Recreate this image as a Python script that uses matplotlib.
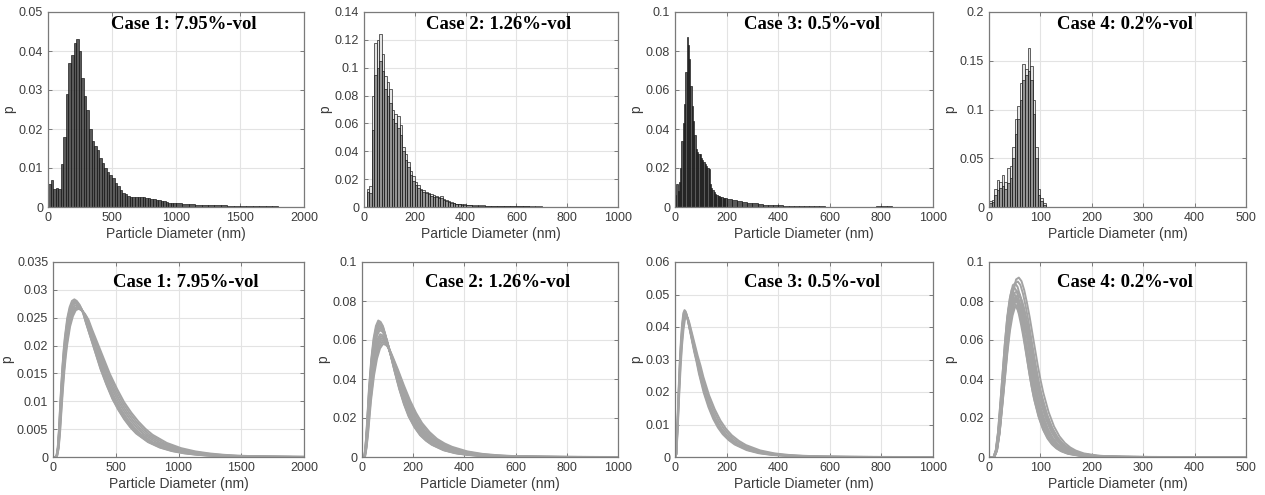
import numpy as np
import matplotlib
matplotlib.use("Agg")
import matplotlib.pyplot as plt
from matplotlib.ticker import FuncFormatter

plt.rcParams['font.family'] = ['Liberation Sans', 'DejaVu Sans']

titles = ["Case 1: 7.95%-vol", "Case 2: 1.26%-vol", "Case 3: 0.5%-vol", "Case 4: 0.2%-vol"]
xmax = [2000, 1000, 1000, 500]
xstep = [500, 200, 200, 100]
top_ymax = [0.05, 0.14, 0.1, 0.2]
top_ystep = [0.01, 0.02, 0.02, 0.05]
bot_ymax = [0.035, 0.1, 0.06, 0.1]
bot_ystep = [0.005, 0.02, 0.01, 0.02]

# ---------------- top row: histograms (bin edges in nm, heights p) ----------------
c1_edges = np.concatenate([np.arange(0, 1000, 20), np.arange(1000, 2001, 50)])
c1_h = [0.006, 0.007, 0.0045, 0.005, 0.0045, 0.011, 0.018, 0.029, 0.037, 0.039,
        0.042, 0.043, 0.040, 0.033, 0.0285, 0.025, 0.020, 0.017, 0.0156, 0.0147,
        0.0126, 0.0113, 0.010, 0.0091, 0.0083, 0.0074, 0.0061, 0.0053, 0.0044, 0.0037,
        0.0033, 0.0029, 0.0026, 0.0025, 0.0025, 0.0025, 0.0026, 0.0025, 0.0023, 0.0022,
        0.0021, 0.0020, 0.0019, 0.0018, 0.0016, 0.0015, 0.0013, 0.0011, 0.0010, 0.0010,
        0.0009, 0.0008, 0.0007, 0.0006, 0.0005, 0.0005, 0.0004, 0.0004, 0.0003, 0.0003,
        0.0003, 0.0002, 0.0002, 0.0002, 0.00015, 0.0002, 0.0001, 0.0001, 0.00005, 0.00005]

c2_edges = np.concatenate([np.arange(10, 400, 10), np.arange(400, 876, 25)])
c2_h_a = [0.013, 0.015, 0.080, 0.118, 0.120, 0.124, 0.110, 0.094, 0.090, 0.085,
          0.070, 0.067, 0.065, 0.059, 0.043, 0.038, 0.032, 0.026, 0.022, 0.018,
          0.016, 0.013, 0.012, 0.011, 0.010, 0.009, 0.0085, 0.008, 0.0075, 0.008,
          0.006, 0.005, 0.004, 0.0035, 0.003, 0.0025, 0.002, 0.002, 0.0018,
          0.0015, 0.0013, 0.0011, 0.0010, 0.0009, 0.0008, 0.0007, 0.0006, 0.0005, 0.0005,
          0.0004, 0.0004, 0.0003, 0.0003, 0.0003, 0.0002, 0.0002, 0.0002, 0.0002]
c2_h_b = [0.011, 0.010, 0.055, 0.095, 0.100, 0.105, 0.098, 0.085, 0.080, 0.075,
          0.063, 0.060, 0.057, 0.052, 0.040, 0.034, 0.029, 0.023, 0.019, 0.016,
          0.014, 0.012, 0.011, 0.010, 0.009, 0.008, 0.0075, 0.007, 0.0065, 0.0065,
          0.0052, 0.0045, 0.0036, 0.003, 0.0027, 0.0022, 0.0018, 0.0017, 0.0015,
          0.0012, 0.0010, 0.0009, 0.0008, 0.0007, 0.0007, 0.0006, 0.0005, 0.0004, 0.0004,
          0.0003, 0.0003, 0.0003, 0.0002, 0.0002, 0.0002, 0.0001, 0.0001, 0.0001]

c3_edges = np.concatenate([np.arange(0, 200, 5), np.arange(200, 901, 20)])
c3_h = [0.006, 0.012, 0.008, 0.013, 0.020, 0.034, 0.043, 0.053, 0.069, 0.087,
        0.083, 0.076, 0.062, 0.052, 0.044, 0.037, 0.030, 0.028, 0.027, 0.027,
        0.025, 0.024, 0.023, 0.022, 0.021, 0.020, 0.0195, 0.012, 0.010, 0.0085,
        0.0075, 0.0068, 0.0062, 0.0058, 0.0055, 0.0052, 0.0050, 0.0048, 0.0046, 0.0045,
        0.0042, 0.0038, 0.0032, 0.0027, 0.0022, 0.0018, 0.0015, 0.0012, 0.0010, 0.0009,
        0.0008, 0.0007, 0.0006, 0.0005, 0.0005, 0.0004, 0.0003, 0.0003, 0.0003, 0.0002,
        0.0002, 0.0002, 0.0002, 0.0002, 0.0002, 0.0001, 0.0001, 0.0002, 0.0002, 0.0005,
        0.0007, 0.0003, 0.0002, 0.0001, 0.0001]

c4_edges = np.arange(0, 111, 5)
c4_h_a = [0.006, 0.0075, 0.018, 0.028, 0.026, 0.033, 0.026, 0.040, 0.042, 0.062,
          0.090, 0.104, 0.127, 0.147, 0.142, 0.163, 0.145, 0.110, 0.062, 0.018,
          0.009, 0.004]
c4_h_b = [0.004, 0.005, 0.012, 0.017, 0.020, 0.022, 0.018, 0.025, 0.030, 0.050,
          0.075, 0.090, 0.110, 0.130, 0.135, 0.140, 0.130, 0.095, 0.050, 0.012,
          0.006, 0.002]

# ---------------- bottom row: fitted curves ----------------
# shape of a typical curve (peak = 1) read off the picture, then peak heights
# and peak positions of the individual curves
c1_x = [0, 20, 30, 40, 50, 60, 70, 80, 90, 100, 120, 140, 160, 180, 200, 225, 250, 275,
        300, 350, 400, 450, 500, 550, 600, 650, 700, 800, 900, 1000, 1100, 1200, 1300,
        1400, 1500, 1700, 2000]
c1_y = [0, 0, 0.01, 0.06, 0.17, 0.32, 0.46, 0.58, 0.68, 0.76, 0.88, 0.95, 0.99, 1.0, 0.99,
        0.965, 0.925, 0.86, 0.80, 0.68, 0.56, 0.46, 0.37, 0.30, 0.24, 0.19, 0.15, 0.095,
        0.06, 0.038, 0.024, 0.015, 0.009, 0.006, 0.004, 0.0015, 0.0004]
c1_mode = 180
c1_peaks = [0.0283, 0.0280, 0.0278, 0.0276, 0.0273, 0.0270, 0.0268, 0.0266]
c1_peak_x = [170, 172, 176, 180, 186, 192, 198, 204]

c2_x = [0, 10, 15, 20, 30, 40, 50, 60, 70, 80, 90, 100, 120, 140, 160, 180, 200, 225,
        250, 275, 300, 350, 400, 450, 500, 600, 700, 800, 1000]
c2_y = [0, 0, 0.08, 0.2, 0.5, 0.72, 0.87, 0.96, 1.0, 0.99, 0.96, 0.9, 0.77, 0.63, 0.5,
        0.39, 0.3, 0.22, 0.16, 0.12, 0.09, 0.05, 0.028, 0.016, 0.009, 0.003, 0.001,
        0.0003, 0]
c2_mode = 75
c2_peaks = [0.070, 0.069, 0.068, 0.067, 0.066, 0.065, 0.063, 0.062, 0.061, 0.060, 0.059, 0.058]
c2_peak_x = [68, 69, 70, 72, 73, 74, 76, 78, 80, 82, 85, 88]

c3_x = [0, 5, 10, 15, 20, 25, 30, 35, 40, 45, 50, 60, 70, 80, 90, 100, 120, 140, 160,
        180, 200, 225, 250, 300, 350, 400, 450, 500, 600, 700, 800, 1000]
c3_y = [0, 0.02, 0.22, 0.45, 0.65, 0.8, 0.91, 0.98, 1.0, 0.99, 0.96, 0.88, 0.8, 0.72,
        0.65, 0.57, 0.44, 0.34, 0.26, 0.2, 0.155, 0.115, 0.085, 0.047, 0.026, 0.015,
        0.009, 0.005, 0.0017, 0.0006, 0.0002, 0]
c3_mode = 40
c3_peaks = [0.0452, 0.0448, 0.0444, 0.0440, 0.0436, 0.0432]
c3_peak_x = [37, 38, 39, 40, 42, 44]

c4_x = [0, 10, 15, 20, 25, 30, 35, 40, 45, 50, 55, 60, 65, 70, 75, 80, 85, 90, 95, 100,
        110, 120, 130, 140, 150, 160, 175, 200, 225, 250, 300, 500]
c4_y = [0, 0, 0.04, 0.15, 0.32, 0.5, 0.68, 0.83, 0.93, 0.99, 1.0, 0.98, 0.93, 0.86, 0.78,
        0.69, 0.6, 0.51, 0.43, 0.36, 0.25, 0.17, 0.115, 0.078, 0.053, 0.036, 0.02, 0.008,
        0.003, 0.0012, 0.0002, 0]
c4_mode = 55
c4_peaks = [0.092, 0.090, 0.089, 0.087, 0.085, 0.084, 0.083, 0.082, 0.081, 0.080, 0.079, 0.078, 0.077]
c4_peak_x = [58, 56, 51, 49, 55, 48, 57, 53, 50, 55, 49, 56, 52]

hists = [
    [(c1_edges, c1_h, '#484848')],
    [(c2_edges, c2_h_a, '#e2e2e2'), (c2_edges, c2_h_b, '#8a8a8a')],
    [(c3_edges, c3_h, '#484848')],
    [(c4_edges, c4_h_a, '#e2e2e2'), (c4_edges, c4_h_b, '#8a8a8a')],
]
curves = [
    (c1_x, c1_y, c1_mode, c1_peaks, c1_peak_x),
    (c2_x, c2_y, c2_mode, c2_peaks, c2_peak_x),
    (c3_x, c3_y, c3_mode, c3_peaks, c3_peak_x),
    (c4_x, c4_y, c4_mode, c4_peaks, c4_peak_x),
]

W, H = 1265, 495
top_left = [48, 364, 675, 989]
top_w = [256, 254, 258, 257]
bot_left = [53, 362, 675, 989]
bot_w = [251, 256, 258, 257]

fig = plt.figure(figsize=(W / 100, H / 100), dpi=100)

fmt = FuncFormatter(lambda v, p: ('%g' % round(v, 6)))


def style(ax, i, ymax, ystep, title_y):
    ax.set_xlim(0, xmax[i])
    ax.set_ylim(0, ymax)
    ax.set_xticks(np.arange(0, xmax[i] + 1, xstep[i]))
    ax.set_yticks(np.arange(0, ymax + ystep / 2, ystep))
    ax.xaxis.set_major_formatter(fmt)
    ax.yaxis.set_major_formatter(fmt)
    ax.grid(True, color='#e3e3e3', lw=0.8)
    ax.set_axisbelow(True)
    for s in ax.spines.values():
        s.set_color('#7a7a7a')
        s.set_linewidth(0.9)
    ax.tick_params(direction='in', length=3, width=0.7, colors='#7a7a7a',
                   labelcolor='#3c3c3c', labelsize=9, top=True, right=True)
    ax.set_xlabel('Particle Diameter (nm)', fontsize=10, color='#3c3c3c', labelpad=2)
    ax.set_ylabel('p', fontsize=10, color='#3c3c3c', labelpad=2)
    ax.text(0.53, title_y, titles[i], transform=ax.transAxes, ha='center', va='center',
            fontsize=13.5, fontweight='bold', family='Liberation Serif', color='black')


for i in range(4):
    ax = fig.add_axes([top_left[i] / W, 1 - 207 / H, top_w[i] / W, 195 / H])
    for edges, h, fc in hists[i]:
        ax.bar(edges[:-1], h, width=np.diff(edges), align='edge', facecolor=fc,
               edgecolor='#111111', linewidth=0.5, alpha=0.9)
    style(ax, i, top_ymax[i], top_ystep[i], 0.935)

    ax = fig.add_axes([bot_left[i] / W, 1 - 457 / H, bot_w[i] / W, 195 / H])
    x, y, mode, peaks, peak_x = curves[i]
    for pk, px in zip(peaks, peak_x):
        ax.plot(np.array(x) * px / mode, np.array(y) * pk, color='#a3a3a3', lw=1.4)
    style(ax, i, bot_ymax[i], bot_ystep[i], 0.895)

fig.savefig('out.png', dpi=100)
